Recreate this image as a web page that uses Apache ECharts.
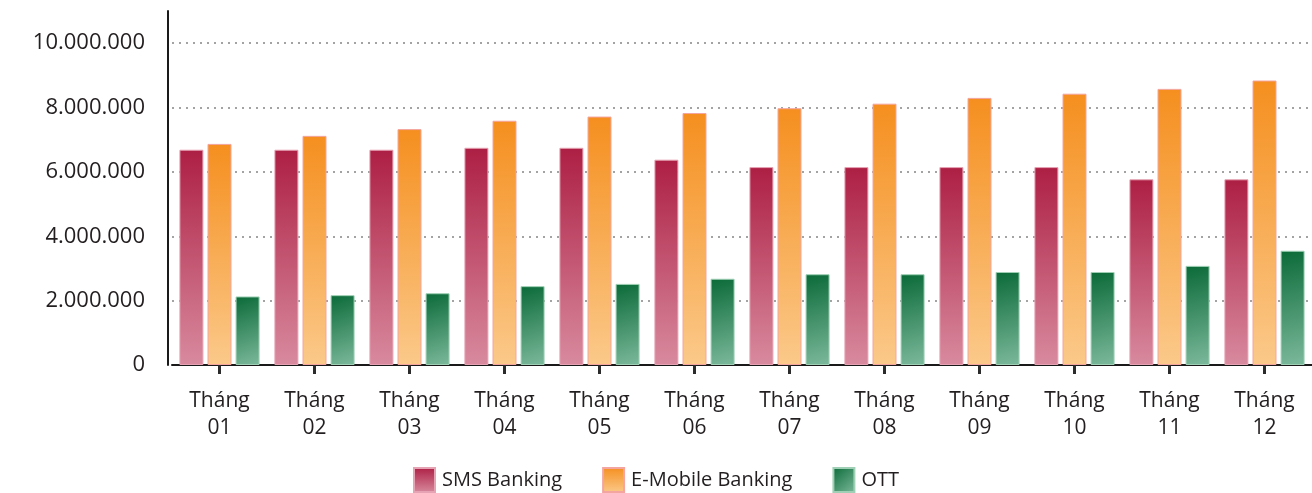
<!DOCTYPE html>
<html>
<head>
<meta charset="utf-8">
<script src="https://cdn.jsdelivr.net/npm/echarts@6/dist/echarts.min.js"></script>
<style>
html, body { margin: 0; padding: 0; background: #fff; }
#main { width: 1312px; height: 493px; }
</style>
</head>
<body>
<div id="main"></div>
<script>
var months = ['Tháng\n01', 'Tháng\n02', 'Tháng\n03', 'Tháng\n04', 'Tháng\n05', 'Tháng\n06',
              'Tháng\n07', 'Tháng\n08', 'Tháng\n09', 'Tháng\n10', 'Tháng\n11', 'Tháng\n12'];
var smsBanking = [6690000, 6690000, 6690000, 6750000, 6750000, 6380000,
                  6150000, 6150000, 6150000, 6150000, 5770000, 5770000];
var eMobileBanking = [6870000, 7120000, 7330000, 7590000, 7720000, 7830000,
                      7980000, 8120000, 8300000, 8430000, 8580000, 8840000];
var ott = [2130000, 2170000, 2230000, 2450000, 2520000, 2680000,
           2820000, 2820000, 2890000, 2890000, 3080000, 3550000];

var font = '"Open Sans", "Noto Sans", sans-serif';

function vGrad(top, bottom) {
    return new echarts.graphic.LinearGradient(0, 0, 0, 1, [
        { offset: 0, color: top },
        { offset: 1, color: bottom }
    ]);
}
function dGrad(a, b) {
    return new echarts.graphic.LinearGradient(0, 0, 1, 1, [
        { offset: 0, color: a },
        { offset: 1, color: b }
    ]);
}

(function () {
    var chart = echarts.init(document.getElementById('main'));
    var option = {
        animation: false,
        textStyle: { fontFamily: font, color: '#231f20' },
        grid: { left: 172, right: -6, top: 11, bottom: 128, containLabel: false },
        legend: {
            left: 'center',
            top: 462,
            itemWidth: 21,
            itemHeight: 24,
            itemGap: 40,
            icon: 'rect',
            textStyle: { fontFamily: font, fontSize: 20, color: '#231f20', padding: [0, 0, 0, 2] },
            data: ['SMS Banking', 'E-Mobile Banking', 'OTT']
        },
        xAxis: {
            type: 'category',
            data: months,
            axisLine: { show: true, onZero: false, lineStyle: { color: '#1a1a1a', width: 2 } },
            axisTick: { show: true, alignWithLabel: true, length: 9, lineStyle: { color: '#2b2b2b', width: 3 } },
            axisLabel: { fontFamily: font, fontSize: 21, color: '#231f20', lineHeight: 27, margin: 23 }
        },
        yAxis: {
            type: 'value',
            min: 0,
            max: 11000000,
            interval: 2000000,
            offset: 4,
            axisLine: { show: true, lineStyle: { color: '#1a1a1a', width: 2 } },
            axisTick: { show: false },
            axisLabel: {
                fontFamily: font, fontSize: 22, color: '#231f20', margin: 23,
                showMaxLabel: false,
                formatter: function (v) {
                    return String(v).replace(/\B(?=(\d{3})+(?!\d))/g, '.');
                }
            },
            splitLine: {
                showMaxLine: false,
                lineStyle: { color: '#a3a3a3', width: 2, type: [2, 5] }
            }
        },
        series: [
            {
                name: 'SMS Banking',
                type: 'bar',
                barWidth: 24,
                barGap: '17%',
                data: smsBanking,
                itemStyle: { color: vGrad('#ad1f44', '#d88a9e'), borderColor: '#e6a3b3', borderWidth: 1 }
            },
            {
                name: 'E-Mobile Banking',
                type: 'bar',
                barWidth: 24,
                data: eMobileBanking,
                itemStyle: { color: vGrad('#f58f1f', '#fbc98a'), borderColor: '#f4a5a0', borderWidth: 1 }
            },
            {
                name: 'OTT',
                type: 'bar',
                barWidth: 24,
                data: ott,
                itemStyle: { color: dGrad('#0b6a38', '#7cb99c'), borderColor: '#9fd0b5', borderWidth: 1 }
            }
        ]
    };
    chart.setOption(option);
})();
</script>
</body>
</html>
